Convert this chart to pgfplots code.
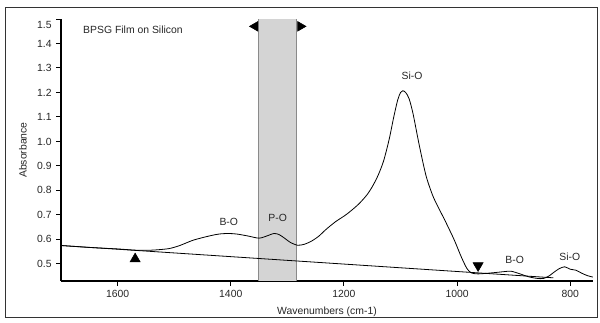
\documentclass[border=0pt]{standalone}
\usepackage{fontspec}
\setmainfont{Liberation Sans}
\usepackage{pgfplots}
\pgfplotsset{compat=1.18}
\definecolor{bandfill}{HTML}{D4D4D4}
\definecolor{bandedge}{HTML}{8A8A8A}
\begin{document}
\begin{tikzpicture}
\useasboundingbox (-45.75pt,-30.75pt) rectangle (404.25pt,210.75pt);
\draw[line width=0.75pt, black!80] (-41.25pt,-27pt) rectangle (402pt,204.75pt);
\begin{axis}[
  at={(0pt,0pt)}, anchor=south west, scale only axis,
  width=399pt, height=196.5pt,
  x dir=reverse, xmin=760, xmax=1700, ymin=0.43, ymax=1.5,
  axis lines=left, axis line style={-, line width=1pt},
  tick align=outside, major tick length=3.5pt,
  tick style={black, line width=0.75pt},
  xtick={800,1000,1200,1400,1600},
  ytick={0.5,0.6,0.7,0.8,0.9,1.0,1.1,1.2,1.3,1.4},
  extra y ticks={1.5},
  extra y tick style={yticklabel style={yshift=-4.5pt}},
  /pgf/number format/assume math mode=true,
  tick label style={font=\fontsize{7.8}{9}\selectfont, black!85},
  yticklabel style={/pgf/number format/fixed, /pgf/number format/fixed zerofill, /pgf/number format/precision=1},
  xticklabel style={/pgf/number format/1000 sep={}},
]
% highlighted band
\addplot[fill=bandfill, draw=none] coordinates {(1351,0.43) (1351,1.5) (1283.5,1.5) (1283.5,0.43)} -- cycle;
\addplot[bandedge, line width=0.8pt] coordinates {(1351,0.43) (1351,1.5)};
\addplot[bandedge, line width=0.8pt] coordinates {(1283.5,0.43) (1283.5,1.5)};
% baseline
\addplot[black, line width=0.6pt] coordinates {(1700,0.575) (830,0.443)};
% spectrum
\addplot[black, line width=0.6pt, smooth, tension=0.45] coordinates {
(1700,0.575) (1650,0.567) (1600,0.561) (1569,0.556) (1540,0.556) (1510,0.562)
(1490,0.575) (1466,0.597) (1436,0.615) (1420,0.622) (1405,0.624) (1390,0.622)
(1370,0.614) (1350,0.605) (1335,0.615) (1324,0.624) (1315,0.620) (1305,0.605)
(1295,0.588) (1282,0.576) (1270,0.580) (1258,0.592) (1245,0.612) (1232,0.640)
(1215,0.672) (1195,0.703) (1175,0.742) (1160,0.780) (1150,0.815) (1140,0.860)
(1130,0.920) (1120,1.010) (1112,1.100) (1105,1.170) (1100,1.200) (1096,1.207)
(1091,1.200) (1085,1.175) (1078,1.114) (1067,0.985) (1055,0.860) (1043,0.778)
(1032,0.725) (1020,0.670) (1005,0.597) (993,0.530) (983,0.482) (975,0.463)
(963,0.459) (950,0.461) (935,0.464) (918,0.468) (905,0.470) (890,0.460)
(875,0.448) (860,0.441) (848,0.440) (838,0.450) (830,0.464) (820,0.480)
(810,0.488) (800,0.478) (790,0.474) (780,0.462) (770,0.452) (760,0.446)};
% markers
\addplot[only marks, mark=triangle*, mark size=4.4pt, mark options={fill=black, draw=black}] coordinates {(1569,0.520)};
\addplot[only marks, mark=triangle*, mark size=4.4pt, mark options={fill=black, draw=black, rotate=180}] coordinates {(963,0.493)};
\addplot[only marks, mark=triangle*, mark size=4.2pt, mark options={fill=black, draw=black, rotate=90}] coordinates {(1357,1.470)};
\addplot[only marks, mark=triangle*, mark size=4.2pt, mark options={fill=black, draw=black, rotate=-90}] coordinates {(1277,1.470)};
% labels
\node[font=\fontsize{7.8}{9}\selectfont, black!85, anchor=west] at (axis cs:1669,1.454) {BPSG Film on Silicon};
\node[font=\fontsize{7.8}{9}\selectfont, black!85] at (axis cs:1403.5,0.671) {B-O};
\node[font=\fontsize{7.8}{9}\selectfont, black!85] at (axis cs:1317.2,0.689) {P-O};
\node[font=\fontsize{7.8}{9}\selectfont, black!85] at (axis cs:1079.7,1.267) {Si-O};
\node[font=\fontsize{7.8}{9}\selectfont, black!85] at (axis cs:898.3,0.515) {B-O};
\node[font=\fontsize{7.8}{9}\selectfont, black!85] at (axis cs:800.8,0.529) {Si-O};
\end{axis}
\node[rotate=90, font=\fontsize{7.8}{9}\selectfont, black!85] at (-28.5pt,98.25pt) {Absorbance};
\node[font=\fontsize{7.8}{9}\selectfont, black!85] at (199.5pt,-23.25pt) {Wavenumbers (cm-1)};
\end{tikzpicture}
\end{document}
